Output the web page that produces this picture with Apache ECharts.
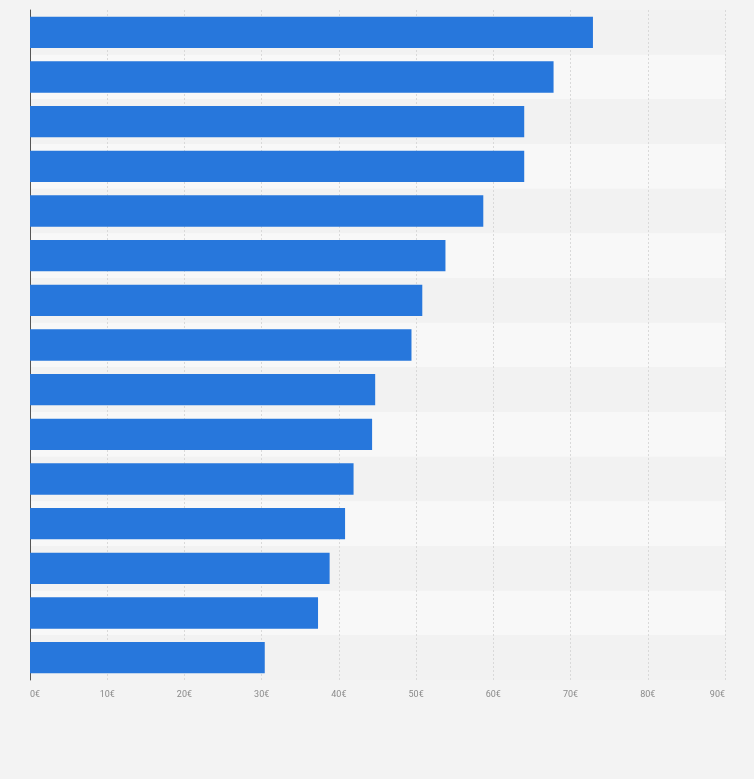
<!DOCTYPE html>
<html>
<head>
<meta charset="utf-8">
<script src="https://cdn.jsdelivr.net/npm/echarts@6/dist/echarts.min.js"></script>
<style>
    html, body { margin: 0; padding: 0; background: #f3f3f3; }
    #chart { width: 754px; height: 779px; }
</style>
</head>
<body>
<div id="chart"></div>
<script>
    // category names are not shown in the picture
    var categories = [
        'Item 1', 'Item 2', 'Item 3', 'Item 4', 'Item 5',
        'Item 6', 'Item 7', 'Item 8', 'Item 9', 'Item 10',
        'Item 11', 'Item 12', 'Item 13', 'Item 14', 'Item 15'
    ];

    // prices in euro
    var values = [72.9, 67.8, 64.0, 64.0, 58.7, 53.8, 50.8, 49.4, 44.7, 44.3, 41.9, 40.8, 38.8, 37.3, 30.4];

    var tickMin = 0;
    var tickMax = 90;
    var tickStep = 10;

    var chart = echarts.init(document.getElementById('chart'));

    var option = {
        backgroundColor: '#f3f3f3',
        animation: false,
        grid: {
            left: 30,
            right: 29,
            top: 10,
            bottom: 99
        },
        xAxis: {
            type: 'value',
            min: tickMin,
            max: tickMax,
            interval: tickStep,
            axisLine: {show: false},
            axisTick: {show: false},
            splitLine: {
                show: true,
                lineStyle: {color: '#d9d9d9', type: [2, 2], width: 1}
            },
            axisLabel: {
                formatter: '{value}€',
                color: '#8a8a8a',
                fontSize: 9,
                fontFamily: 'Roboto',
                margin: 10,
                alignMinLabel: 'left',
                alignMaxLabel: 'right'
            }
        },
        yAxis: {
            type: 'category',
            data: categories,
            inverse: true,
            axisLine: {show: true, lineStyle: {color: '#555', width: 1}},
            axisTick: {show: false},
            axisLabel: {show: false},
            splitLine: {show: false},
            splitArea: {
                show: true,
                areaStyle: {color: ['#f2f2f2', '#f8f8f8']}
            }
        },
        series: [
            {
                type: 'bar',
                data: values,
                barWidth: '70%',
                itemStyle: {color: '#2777dc'}
            }
        ]
    };

    chart.setOption(option);
</script>
</body>
</html>
